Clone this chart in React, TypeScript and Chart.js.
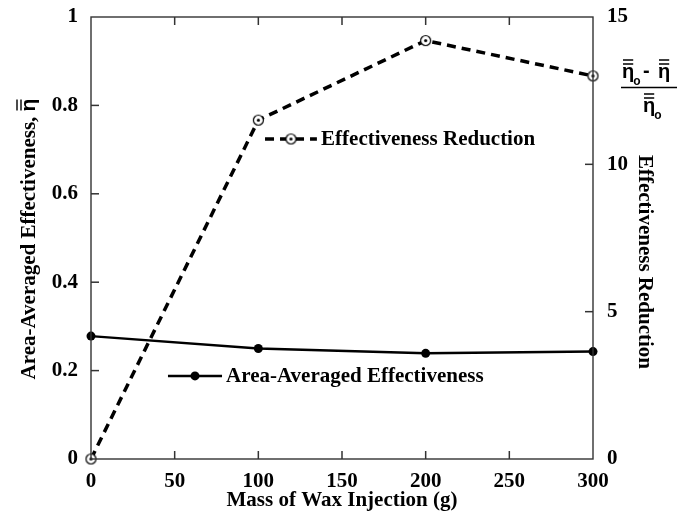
import React, { useEffect, useRef } from "react";
import { Chart, registerables } from "chart.js";

Chart.register(...registerables);

// ---- data ----
const massOfWax = [0, 100, 200, 300];
const areaAveragedEffectiveness = [0.278, 0.25, 0.239, 0.243];
const effectivenessReduction = [0, 11.5, 14.2, 13.0];
const xTickValues = [0, 50, 100, 150, 200, 250, 300];
const leftTickValues = [0, 0.2, 0.4, 0.6, 0.8, 1];
const rightTickValues = [0, 5, 10, 15];

const legendReduction = { label: "Effectiveness Reduction", x0: 104, x1: 135, xText: 137.5, y: 0.724 };
const legendArea = { label: "Area-Averaged Effectiveness", x0: 46, x1: 78.3, xText: 80.7, y: 0.188 };

const SERIF = '"Liberation Serif", "Times New Roman", serif';
const SANS = '"Liberation Sans", Arial, sans-serif';
const FONT_SIZE = 21;
const DASH = [9, 6];

function makeRing(): HTMLCanvasElement {
  const c = document.createElement("canvas");
  c.width = 13;
  c.height = 13;
  const g = c.getContext("2d")!;
  g.beginPath();
  g.arc(6.5, 6.5, 5, 0, Math.PI * 2);
  g.fillStyle = "#fff";
  g.fill();
  g.lineWidth = 1.2;
  g.strokeStyle = "#000";
  g.stroke();
  g.beginPath();
  g.arc(6.5, 6.5, 1.6, 0, Math.PI * 2);
  g.fillStyle = "#000";
  g.fill();
  return c;
}

function drawEta(ctx: CanvasRenderingContext2D, x: number, baseline: number, size: number, sub: boolean) {
  ctx.font = `bold ${size}px ${SANS}`;
  ctx.textAlign = "left";
  ctx.textBaseline = "alphabetic";
  ctx.fillText("η", x, baseline);
  const w = ctx.measureText("η").width;
  ctx.lineWidth = 1.4;
  ctx.beginPath();
  for (const dy of [14, 18]) {
    ctx.moveTo(x + 1, baseline - dy);
    ctx.lineTo(x + w - 1, baseline - dy);
  }
  ctx.stroke();
  if (sub) {
    ctx.font = `bold 12px ${SANS}`;
    ctx.fillText("o", x + w - 1, baseline + 7);
  }
  return w;
}

const zeroPad = (s: any) => {
  s.paddingTop = 0;
  s.paddingBottom = 0;
  s.paddingLeft = 0;
  s.paddingRight = 0;
};

function drawFrameAndTicks(chart: any) {
  const ctx: CanvasRenderingContext2D = chart.ctx;
  const a = chart.chartArea;
  const sx = chart.scales["x"];
  const sy = chart.scales["y"];
  const sy2 = chart.scales["y2"];
  ctx.save();
  ctx.setLineDash([]);
  ctx.globalAlpha = 1;
  ctx.strokeStyle = "#333333";
  ctx.lineWidth = 1.4;
  ctx.strokeRect(a.left, a.top, a.right - a.left, a.bottom - a.top);
  ctx.fillStyle = "#333333";
  const L = 8;
  const T = 1.5;
  for (let i = 1; i < xTickValues.length - 1; i++) {
    const p = sx.getPixelForValue(xTickValues[i]);
    ctx.fillRect(p - T / 2, a.bottom - L, T, L);
    ctx.fillRect(p - T / 2, a.top, T, L);
  }
  for (let i = 1; i < leftTickValues.length - 1; i++) {
    const p = sy.getPixelForValue(leftTickValues[i]);
    ctx.fillRect(a.left, p - T / 2, L, T);
  }
  for (let i = 1; i < rightTickValues.length - 1; i++) {
    const p = sy2.getPixelForValue(rightTickValues[i]);
    ctx.fillRect(a.right - L, p - T / 2, L, T);
  }
  ctx.restore();
}

export default function App() {
  const ref = useRef<HTMLCanvasElement | null>(null);

  useEffect(() => {
    if (!ref.current) return;
    const ring = makeRing();

    const decor = {
      id: "decor",
      afterDraw(chart: any) {
        const { ctx, chartArea: a, scales } = chart;
        const sx = scales.x;
        const sy = scales.y;
        ctx.save();
        ctx.fillStyle = "#000";
        ctx.strokeStyle = "#000";

        // legend: Effectiveness Reduction
        {
          const y = sy.getPixelForValue(legendReduction.y);
          const x0 = sx.getPixelForValue(legendReduction.x0);
          const x1 = sx.getPixelForValue(legendReduction.x1);
          ctx.setLineDash(DASH);
          ctx.lineWidth = 3.5;
          ctx.beginPath();
          ctx.moveTo(x0, y);
          ctx.lineTo(x1, y);
          ctx.stroke();
          ctx.setLineDash([]);
          ctx.drawImage(ring, (x0 + x1) / 2 - 6.5, y - 6.5);
          ctx.font = `bold ${FONT_SIZE}px ${SERIF}`;
          ctx.textAlign = "left";
          ctx.textBaseline = "middle";
          ctx.fillText(legendReduction.label, sx.getPixelForValue(legendReduction.xText), y + 1);
        }
        // legend: Area-Averaged Effectiveness
        {
          const y = sy.getPixelForValue(legendArea.y);
          const x0 = sx.getPixelForValue(legendArea.x0);
          const x1 = sx.getPixelForValue(legendArea.x1);
          ctx.lineWidth = 2.5;
          ctx.beginPath();
          ctx.moveTo(x0, y);
          ctx.lineTo(x1, y);
          ctx.stroke();
          ctx.beginPath();
          ctx.arc((x0 + x1) / 2, y, 4.5, 0, Math.PI * 2);
          ctx.fill();
          ctx.font = `bold ${FONT_SIZE}px ${SERIF}`;
          ctx.textAlign = "left";
          ctx.textBaseline = "middle";
          ctx.fillText(legendArea.label, sx.getPixelForValue(legendArea.xText), y + 1);
        }

        // x title
        ctx.font = `bold ${FONT_SIZE}px ${SERIF}`;
        ctx.textAlign = "center";
        ctx.textBaseline = "middle";
        ctx.fillText("Mass of Wax Injection (g)", (a.left + a.right) / 2, a.bottom + 42);

        // left title (rotated) with double-bar eta
        {
          const prefix = "Area-Averaged Effectiveness, ";
          ctx.save();
          ctx.translate(28, a.top + 222);
          ctx.rotate(-Math.PI / 2);
          ctx.font = `bold ${FONT_SIZE}px ${SERIF}`;
          const pw = ctx.measureText(prefix).width;
          ctx.font = `bold ${FONT_SIZE}px ${SANS}`;
          const ew = ctx.measureText("η").width;
          const start = -(pw + ew) / 2;
          ctx.font = `bold ${FONT_SIZE}px ${SERIF}`;
          ctx.textAlign = "left";
          ctx.textBaseline = "alphabetic";
          ctx.fillText(prefix, start, 7);
          drawEta(ctx, start + pw, 7, FONT_SIZE, false);
          ctx.restore();
        }

        // right title (rotated)
        ctx.save();
        ctx.translate(a.right + 51, a.top + 245);
        ctx.rotate(Math.PI / 2);
        ctx.font = `bold ${FONT_SIZE}px ${SERIF}`;
        ctx.textAlign = "center";
        ctx.textBaseline = "middle";
        ctx.fillText("Effectiveness Reduction", 0, 0);
        ctx.restore();

        // fraction (eta_o - eta) / eta_o
        {
          const fx = a.right + 29;
          const nb = a.top + 61;
          drawEta(ctx, fx, nb, 20, true);
          ctx.font = `bold 20px ${SANS}`;
          ctx.textAlign = "left";
          ctx.fillText("-", fx + 21, nb - 1);
          drawEta(ctx, fx + 36, nb, 20, false);
          ctx.lineWidth = 1.4;
          ctx.beginPath();
          ctx.moveTo(fx - 1, a.top + 70.5);
          ctx.lineTo(fx + 55, a.top + 70.5);
          ctx.stroke();
          drawEta(ctx, fx + 21, a.top + 95, 20, true);
        }
        ctx.restore();

        drawFrameAndTicks(chart);
      },
    };

    const tickFont = { family: SERIF, size: FONT_SIZE, weight: "bold" as const };
    const fmt = (v: any) => String(Number(v));

    const chart = new Chart(ref.current, {
      type: "line",
      data: {
        datasets: [
          {
            label: "Area-Averaged Effectiveness",
            data: massOfWax.map((x, i) => ({ x, y: areaAveragedEffectiveness[i] })),
            yAxisID: "y",
            borderColor: "#000",
            backgroundColor: "#000",
            borderWidth: 2.5,
            pointRadius: 4.5,
            pointBackgroundColor: "#000",
            pointBorderColor: "#000",
            pointBorderWidth: 0,
            tension: 0,
            clip: false as any,
          },
          {
            label: "Effectiveness Reduction",
            data: massOfWax.map((x, i) => ({ x, y: effectivenessReduction[i] })),
            yAxisID: "y2",
            borderColor: "#000",
            borderWidth: 3.5,
            borderDash: DASH,
            pointStyle: ring as any,
            pointRadius: 6,
            tension: 0,
            clip: false as any,
          },
        ],
      },
      options: {
        responsive: false,
        animation: false,
        devicePixelRatio: 1,
        layout: { padding: { top: 17, left: 0, right: 0, bottom: 0 } },
        plugins: { legend: { display: false }, tooltip: { enabled: false } },
        events: [],
        scales: {
          x: {
            type: "linear",
            position: "bottom",
            min: 0,
            max: 300,
            afterBuildTicks: (s: any) => {
              s.ticks = xTickValues.map((v) => ({ value: v }));
            },
            afterFit: (s: any) => {
              s.height = 68;
              zeroPad(s);
            },
            grid: { display: false, drawTicks: false },
            border: { display: false },
            ticks: { font: tickFont, color: "#000", padding: 10, maxRotation: 0, autoSkip: false, callback: fmt },
          },
          y: {
            type: "linear",
            position: "left",
            min: 0,
            max: 1,
            afterBuildTicks: (s: any) => {
              s.ticks = leftTickValues.map((v) => ({ value: v }));
            },
            afterFit: (s: any) => {
              s.width = 91;
              zeroPad(s);
            },
            grid: { display: false, drawTicks: false },
            border: { display: false },
            ticks: { font: tickFont, color: "#000", padding: 13, callback: fmt },
          },
          y2: {
            type: "linear",
            position: "right",
            min: 0,
            max: 15,
            afterBuildTicks: (s: any) => {
              s.ticks = rightTickValues.map((v) => ({ value: v }));
            },
            afterFit: (s: any) => {
              s.width = 99;
              zeroPad(s);
            },
            grid: { display: false, drawTicks: false },
            border: { display: false },
            ticks: { font: tickFont, color: "#000", padding: 14, callback: fmt },
          },
        },
      },
      plugins: [decor],
    });

    return () => chart.destroy();
  }, []);

  return (
    <div style={{ position: "absolute", left: 0, top: 0, width: 692, height: 527, background: "#fff" }}>
      <canvas ref={ref} width={692} height={527} style={{ display: "block", width: 692, height: 527 }} />
    </div>
  );
}
